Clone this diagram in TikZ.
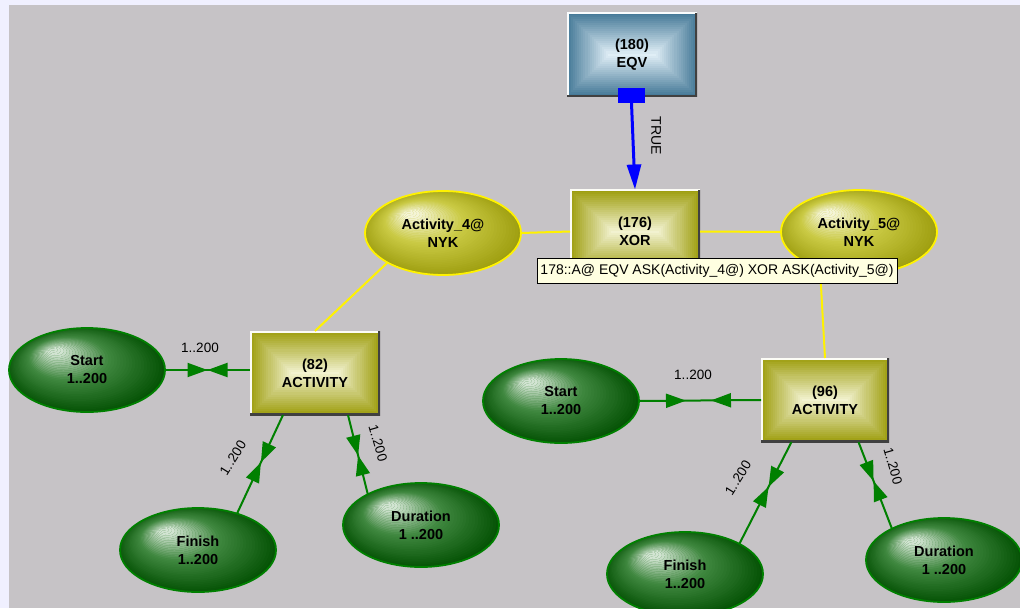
\documentclass[tikz,border=0pt]{standalone}
\usepackage{fontspec}
\setmainfont{Liberation Sans}
\usetikzlibrary{shapes.geometric,arrows.meta,decorations.markings,calc}

\definecolor{bg}{RGB}{198,195,198}
\definecolor{lav}{RGB}{240,240,255}
\definecolor{oliveEdge}{RGB}{158,158,16}
\definecolor{oliveCtr}{RGB}{242,242,208}
\definecolor{blueEdge}{RGB}{70,122,152}
\definecolor{blueCtr}{RGB}{224,238,246}
\definecolor{gHi}{RGB}{210,228,210}
\definecolor{gMid}{RGB}{64,136,64}
\definecolor{gDark}{RGB}{0,78,0}
\definecolor{gLine}{RGB}{0,128,0}
\definecolor{yHi}{RGB}{244,244,214}
\definecolor{yMid}{RGB}{202,202,68}
\definecolor{yDark}{RGB}{155,155,12}
\definecolor{tipbg}{RGB}{255,255,225}
\definecolor{wireBlue}{RGB}{0,0,255}

\tikzset{
  pillow/.style 2 args={path picture={
    \coordinate (pSW) at (path picture bounding box.south west);
    \coordinate (pNE) at (path picture bounding box.north east);
    \foreach \k in {0,...,20}{
      \pgfmathtruncatemacro\pc{100-5*\k}
      \fill[#1!\pc!#2] ($(pSW)+(\k*2.05pt,\k*2.05pt)$) rectangle ($(pNE)-(\k*2.05pt,\k*2.05pt)$);
    }
    \draw[line width=3pt, white!80!#2] (pSW) -- (pSW |- pNE) -- (pNE);
    \draw[line width=4pt, black!75] (pSW) -- (pSW -| pNE) -- (pNE);
  }},
  ballfill/.style n args={3}{path picture={
    \coordinate (bC) at (path picture bounding box.center);
    \foreach \k in {0,...,40}{
      \pgfmathsetmacro\tt{\k/40}
      \pgfmathtruncatemacro\pa{min(100,100*\tt/0.52)}
      \pgfmathtruncatemacro\pb{max(0,min(100,100*(\tt-0.52)/0.38))}
      \fill[#2!\pa!#1] ($(bC)+(-35pt*\tt,21pt*\tt)$) ellipse [x radius={84pt*(1-\tt)+0.01pt}, y radius={46pt*(1-\tt)+0.01pt}];
      \ifnum\pb>0
        \fill[#3!\pb!#2] ($(bC)+(-35pt*\tt,21pt*\tt)$) ellipse [x radius={84pt*(1-\tt)+0.01pt}, y radius={46pt*(1-\tt)+0.01pt}];
      \fi
    }
  }},
  boxbase/.style={rectangle, minimum width=130pt, minimum height=84pt, inner sep=0pt, outer sep=0pt,
    align=center, font=\fontsize{14.5}{18}\selectfont\bfseries, text=black},
  olivebox/.style={boxbase, pillow={oliveEdge}{oliveCtr}},
  bluebox/.style={boxbase, pillow={blueEdge}{blueCtr}},
  ellbase/.style={ellipse, minimum width=156pt, minimum height=84pt, inner sep=0pt, outer sep=0pt,
    align=center, font=\fontsize{14.5}{18}\selectfont\bfseries, text=black, line width=1.8pt},
  gell/.style={ellbase, ballfill={gDark}{gMid}{gHi}, draw=gLine},
  yell/.style={ellbase, ballfill={yDark}{yMid}{yHi}, draw=yellow},
  yline/.style={draw=yellow, line width=2pt},
  gline/.style={color=gLine, line width=2pt},
  twotips/.style 2 args={postaction={decorate}, decoration={markings,
    mark=at position #1 with {\arrow{Triangle[length=20pt,width=14pt]}},
    mark=at position #2 with {\arrowreversed{Triangle[length=20pt,width=14pt]}}}},
  elabel/.style={font=\fontsize{13.5}{16}\selectfont, text=black, inner sep=1pt},
}

\begin{document}
\begin{tikzpicture}[x=1pt,y=-1pt]
\fill[bg] (0,0) rectangle (1020,608);
\fill[lav] (0,0) rectangle (1020,5);
\fill[lav] (0,0) rectangle (9,608);
\useasboundingbox (0,0) rectangle (1020,608);

% boxes
\node[bluebox] (eqv) at (632,54.5) {(180)\\EQV};
\node[olivebox] (xor) at (635,231.5) {(176)\\XOR};
\node[olivebox] (act82) at (315,373) {(82)\\ACTIVITY};
\node[olivebox, minimum width=128pt] (act96) at (825,400) {(96)\\ACTIVITY};

% ellipses
\node[yell] (a4) at (443,233) {Activity\_4@\\NYK};
\node[yell] (a5) at (859,232) {Activity\_5@\\NYK};
\node[gell] (st1) at (87,370) {Start\\1..200};
\node[gell] (fin1) at (198,550) {Finish\\1..200};
\node[gell] (dur1) at (421,525) {Duration\\1 ..200};
\node[gell] (st2) at (561,401) {Start\\1..200};
\node[gell] (fin2) at (685,574) {Finish\\1..200};
\node[gell] (dur2) at (944,560) {Duration\\1 ..200};

% EQV port and TRUE wire
\node[fill=wireBlue, minimum width=27pt, minimum height=15pt, inner sep=0pt, outer sep=0pt] (port) at (631.5,95.5) {};
\draw[color=wireBlue, line width=3pt, -{Triangle[length=25pt,width=14pt]}] (port.south) -- (xor.north);
\node[elabel, font=\fontsize{14}{16}\selectfont, rotate=-90] (lblTrue) at (656,136) {TRUE};

% yellow links
\draw[yline] (a4.east) -- (xor.west);
\draw[yline] (xor.east) -- (a5.west);
\draw[yline] (a4.208) -- (act82.north);
\draw[yline] (a5.223) -- (act96.north);

% green links, left activity
\draw[gline, twotips={0.5}{0.5}] (st1.east) -- (st1.east -| act82.west);
\draw[gline, twotips={0.52}{0.52}] (fin1.43) -- ([xshift=-32pt]act82.south);
\draw[gline, twotips={0.49}{0.49}] (dur1.150) -- ([xshift=33pt]act82.south);
\node[elabel] (l1) at (200,348) {1..200};
\node[elabel, rotate=58] (l2) at (233,458) {1..200};
\node[elabel, rotate=-74] (l3) at (378,443) {1..200};

% green links, right activity
\draw[gline, twotips={0.385}{0.59}] (st2.east) -- (act96.west);
\draw[gline, twotips={0.56}{0.56}] (fin2.29) -- ([xshift=-33.5pt]act96.south);
\draw[gline, twotips={0.55}{0.55}] (dur2.149) -- ([xshift=33.5pt]act96.south);
\node[elabel] (r1) at (693,375) {1..200};
\node[elabel, rotate=58] (r2) at (738,478) {1..200};
\node[elabel, rotate=-74] (r3) at (893,466) {1..200};

% tooltip
\node[draw=black, line width=1pt, fill=tipbg, minimum width=360pt, minimum height=25pt, inner sep=0pt,
  font=\fontsize{14}{16}\selectfont, text=black] (tip) at (717,270.5)
  {178::A@ EQV ASK(Activity\_4@) XOR ASK(Activity\_5@)};
\end{tikzpicture}
\end{document}
